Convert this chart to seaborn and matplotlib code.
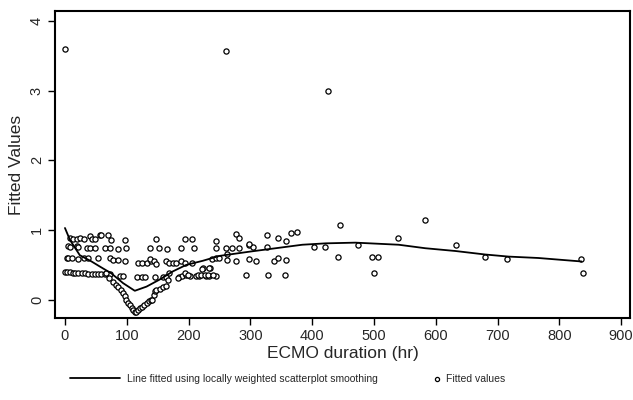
import numpy as np
import pandas as pd

import matplotlib
matplotlib.use("Agg")
import matplotlib.pyplot as plt
import seaborn as sns

# ECMO duration (hr) and fitted values
duration = [
    0, 0, 4, 8, 13, 16, 21, 27, 32, 38, 43, 48, 54, 59, 65, 70, 73, 89, 94, 116,
    124, 129, 145, 158, 163, 185, 190, 196, 202, 212, 217, 228, 233, 244, 293, 328, 356,
    3, 5, 11, 21, 30, 38, 54, 73, 78, 86, 97, 118, 125, 132, 140, 137, 144, 147, 163,
    168, 175, 180, 187, 195, 206, 238, 244, 250, 262, 262, 276, 298, 309, 339, 344, 357,
    441, 496, 507,
    5, 8, 19, 21, 35, 40, 48, 65, 73, 86, 99, 137, 152, 165, 188, 209, 244, 261, 271,
    281, 297, 305, 327, 357, 403, 421, 474,
    8, 13, 19, 24, 30, 40, 43, 48, 56, 59, 70, 75, 97, 148, 195, 206, 244, 277, 282,
    298, 327, 344, 366, 375, 445, 539, 583,
    67, 72, 78, 82, 86, 90, 94, 97, 99, 102, 105, 108, 110, 113, 115, 118, 121, 124,
    128, 132, 136, 140, 141, 144, 145, 148, 153, 159, 164, 167, 169, 183, 194, 199,
    215, 220, 223, 226, 231, 234, 239, 222, 233,
    261, 425, 500, 633, 680, 715, 835, 838,
]
fitted = [
    3.60, 0.40, 0.40, 0.40, 0.39, 0.39, 0.38, 0.38, 0.38, 0.37, 0.37, 0.37, 0.37, 0.37,
    0.37, 0.37, 0.37, 0.34, 0.34, 0.33, 0.33, 0.33, 0.33, 0.33, 0.33, 0.33, 0.34, 0.36,
    0.34, 0.34, 0.34, 0.34, 0.34, 0.34, 0.36, 0.36, 0.36,
    0.60, 0.60, 0.60, 0.58, 0.60, 0.60, 0.60, 0.60, 0.57, 0.57, 0.56, 0.53, 0.53, 0.53,
    0.56, 0.58, 0.55, 0.52, 0.55, 0.53, 0.53, 0.53, 0.56, 0.53, 0.53, 0.58, 0.60, 0.60,
    0.66, 0.57, 0.56, 0.59, 0.55, 0.55, 0.60, 0.57, 0.62, 0.62, 0.62,
    0.77, 0.76, 0.77, 0.76, 0.74, 0.74, 0.74, 0.74, 0.74, 0.73, 0.74, 0.74, 0.74, 0.73,
    0.74, 0.75, 0.74, 0.74, 0.74, 0.75, 0.79, 0.76, 0.76, 0.85, 0.76, 0.76, 0.78,
    0.89, 0.87, 0.87, 0.89, 0.87, 0.92, 0.87, 0.87, 0.93, 0.93, 0.93, 0.86, 0.86, 0.87,
    0.87, 0.87, 0.85, 0.94, 0.89, 0.80, 0.93, 0.88, 0.96, 0.97, 1.07, 0.88, 1.14,
    0.38, 0.32, 0.26, 0.22, 0.19, 0.14, 0.10, 0.05, 0.00, -0.04, -0.07, -0.11, -0.14,
    -0.17, -0.18, -0.14, -0.12, -0.10, -0.07, -0.05, -0.02, 0.00, 0.00, 0.07, 0.12,
    0.14, 0.16, 0.18, 0.20, 0.28, 0.38, 0.31, 0.38, 0.36, 0.36, 0.36, 0.45, 0.36,
    0.36, 0.45, 0.36, 0.44, 0.46,
    3.56, 3.00, 0.38, 0.78, 0.61, 0.59, 0.59, 0.39,
]

# lowess curve
lowess_x = [0, 8, 24, 43, 56, 75, 94, 113, 132, 153, 175, 196, 223, 250, 298, 341,
            384, 422, 470, 540, 583, 632, 680, 718, 766, 836]
lowess_y = [1.03, 0.86, 0.64, 0.55, 0.48, 0.38, 0.24, 0.13, 0.19, 0.29, 0.41, 0.50,
            0.56, 0.63, 0.69, 0.74, 0.79, 0.81, 0.82, 0.79, 0.74, 0.70, 0.65, 0.62,
            0.60, 0.55]

x_ticks = [0, 100, 200, 300, 400, 500, 600, 700, 800, 900]
y_ticks = [0, 1, 2, 3, 4]

pts = pd.DataFrame({"duration": duration, "fitted": fitted})
curve = pd.DataFrame({"duration": lowess_x, "fitted": lowess_y})

sns.set_theme(style="white")
plt.rcParams["font.family"] = ["Liberation Sans", "DejaVu Sans"]

fig = plt.figure(figsize=(6.33, 4.0), dpi=100)
ax = fig.add_axes([0.087, 0.205, 0.908, 0.7675])

sns.lineplot(data=curve, x="duration", y="fitted", color="black", linewidth=1.3,
             estimator=None, sort=False, ax=ax,
             label="Line fitted using locally weighted scatterplot smoothing")
sns.scatterplot(data=pts, x="duration", y="fitted", marker="o", s=14,
                facecolor="white", edgecolor="black", linewidth=0.9, ax=ax,
                label="Fitted values")

ax.set_xlim(-16, 914)
ax.set_ylim(-0.26, 4.14)
ax.set_xticks(x_ticks)
ax.set_yticks(y_ticks)
ax.set_xticklabels([str(t) for t in x_ticks], fontsize=10.5)
ax.set_yticklabels([str(t) for t in y_ticks], fontsize=10.5, rotation=90, va="center")
ax.tick_params(axis="both", direction="out", length=5, width=1, color="black",
               bottom=True, left=True, pad=3)
ax.set_xlabel("ECMO duration (hr)", fontsize=12.5, labelpad=2)
ax.set_ylabel("Fitted Values", fontsize=12.5, labelpad=4)
for sp in ax.spines.values():
    sp.set_color("black")
    sp.set_linewidth(1.5)

handles, labels = ax.get_legend_handles_labels()
ax.get_legend().remove()
# two separate legend pieces so the marker sits close to its text
fig.legend(handles[:1], labels[:1], loc="center left", bbox_to_anchor=(0.096, 0.053),
           frameon=False, fontsize=7.5, handlelength=4.8, handletextpad=0.7)
fig.legend(handles[1:], labels[1:], loc="center left", bbox_to_anchor=(0.668, 0.053),
           frameon=False, fontsize=7.5, handlelength=1.0, handletextpad=0.35,
           markerscale=0.8)

fig.savefig("out.png", dpi=100)
